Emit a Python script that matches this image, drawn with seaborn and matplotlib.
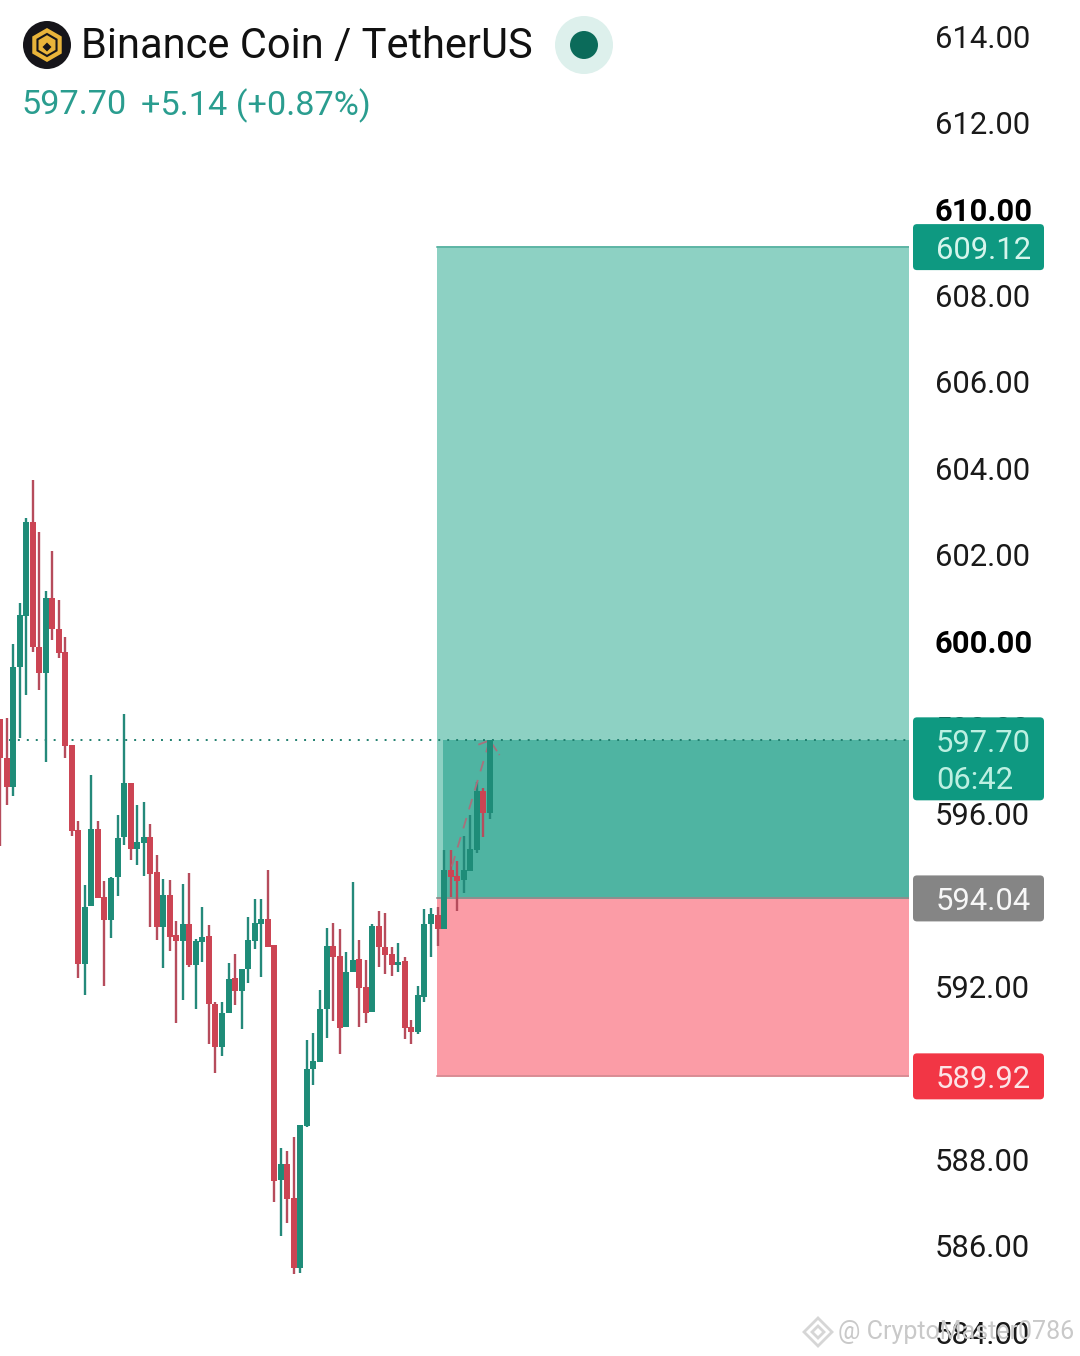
import matplotlib
matplotlib.use("Agg")
import matplotlib.pyplot as plt
from matplotlib.patches import Circle, FancyBboxPatch, RegularPolygon
from matplotlib.transforms import IdentityTransform
import numpy as np
import pandas as pd
import seaborn as sns

direction = list("DDUUUDDUDDDDDUUDDUUUDUUDDUDDUDUUDDUUDUUUUDDUDDUUUUUDDUUDDUDDDUDDUUUDUDDUUUDU")
high = [598.19,598.22,599.93,600.88,602.85,603.73,602.52,601.16,602.08,600.95,600.09,597.59,595.83,594.35,596.90,595.83,
        594.44,594.54,595.97,598.31,596.71,596.20,596.27,595.76,595.05,594.49,594.47,593.52,594.37,594.63,593.10,593.84,
        593.43,591.64,591.64,592.55,592.75,592.41,593.61,594.03,594.03,594.70,592.96,588.26,588.19,588.52,588.79,590.76,
        590.92,591.92,593.36,593.47,593.33,592.80,594.42,593.08,592.61,593.45,593.75,593.70,592.92,593.01,592.68,591.23,
        592.01,593.80,593.82,593.84,595.16,595.16,594.91,595.49,595.97,596.74,596.60,597.70]
body_top = [598.19,597.29,599.40,600.60,602.76,602.76,599.86,601.00,601.00,600.28,599.75,597.59,595.62,593.84,595.65,595.65,
            594.07,594.51,595.44,596.71,596.71,595.35,595.46,595.46,594.65,594.12,594.12,593.19,593.45,593.45,593.05,593.15,
            593.17,591.60,591.39,592.17,592.20,592.41,593.08,593.47,593.56,593.56,592.96,587.89,587.89,587.10,588.79,590.09,
            590.28,591.48,592.94,592.94,592.71,592.34,592.61,592.64,591.99,593.40,593.40,592.92,592.75,592.57,592.59,591.06,
            591.80,593.45,593.68,593.66,594.70,594.70,594.56,594.70,595.18,596.53,596.53,597.70]
body_bottom = [597.29,596.62,596.62,599.40,600.58,599.86,599.26,599.26,600.28,599.72,597.57,595.60,592.52,592.52,593.86,594.05,
               593.54,593.54,594.54,595.46,595.18,595.18,595.32,594.61,593.38,593.38,593.15,593.05,593.05,592.50,592.50,593.03,
               591.60,590.60,590.60,591.39,591.90,591.90,592.41,593.05,593.45,592.92,587.50,587.52,587.08,585.48,585.48,588.77,
               590.09,590.25,591.48,592.68,591.04,591.06,592.34,591.97,591.39,591.41,592.92,592.73,592.50,592.50,591.04,590.95,
               590.95,591.76,593.45,593.33,593.33,594.54,594.44,594.47,594.67,595.16,596.02,596.02]
low = [595.25,596.20,596.41,597.75,598.75,599.75,598.87,597.20,600.02,599.61,597.29,595.49,592.20,591.80,593.86,594.05,
       592.01,593.12,594.10,595.28,594.93,594.81,594.56,593.38,593.08,592.43,592.82,591.16,591.69,592.45,591.48,592.57,
       590.67,590.00,590.39,591.39,591.57,591.02,592.08,592.87,592.22,592.92,587.01,586.22,586.52,585.34,585.37,588.75,
       589.72,590.25,590.81,591.20,590.44,591.06,592.34,591.06,591.16,591.41,592.45,592.29,592.24,592.34,590.79,590.67,
       590.90,591.64,592.68,592.94,593.33,594.07,593.75,594.17,594.67,595.09,595.46,595.88]

last_price = 597.70
target_price = 609.12
entry_price = 594.04
stop_price = 589.92
bold_ticks = [610, 600]
shown_ticks = [614, 612, 610, 608, 606, 604, 602, 600, 598, 596, 592, 588, 586, 584]
arrow_x = [69.2, 75.0]
arrow_y = [594.78, 597.70]
head_x = [73.25, 75.0, 76.5]
head_y = [597.60, 597.70, 597.36]

W, H = 1080, 1356
sns.set_theme(style="white")
plt.rcParams["font.family"] = ["Roboto", "DejaVu Sans"]

fig = plt.figure(figsize=(W / 100, H / 100), dpi=100, facecolor="white")
ax = fig.add_axes([0, 0, 909 / W, 1])
ax.set_facecolor("white")
x_max = 909 / 6.53
ax.set_xlim(0, x_max)
ax.set_ylim(600 - (H - 641) / 43.19, 600 + 641 / 43.19)
for s in ax.spines.values():
    s.set_visible(False)
ax.set_axisbelow(True)

# Risk / reward zones
zone_start, overlap_start = 66.9, 67.9
ax.fill_between([zone_start, x_max], entry_price, target_price, color="#8DD1C3", lw=0, zorder=1)
ax.fill_between([zone_start, x_max], stop_price, entry_price, color="#FB9CA6", lw=0, zorder=1)
ax.fill_between([overlap_start, x_max], entry_price, last_price, color="#4FB4A2", lw=0, zorder=1.1)
ax.plot([zone_start, x_max], [target_price] * 2, color="#5DB5A5", lw=1.4, zorder=1.2)
ax.plot([zone_start, x_max], [entry_price] * 2, color="#8C8F8E", lw=1.4, zorder=1.2)
ax.plot([zone_start, x_max], [stop_price] * 2, color="#D98C94", lw=1.4, zorder=1.2)

# Candles
idx = np.arange(len(direction))
frame = pd.DataFrame(dict(i=idx, dir=direction, high=high, low=low, top=body_top, bottom=body_bottom))
wicks = frame.melt(id_vars=["i", "dir"], value_vars=["high", "low"], value_name="price")
bodies = frame.melt(id_vars=["i", "dir"], value_vars=["top", "bottom"], value_name="price")
sns.lineplot(data=wicks, x="i", y="price", hue="dir", units="i", estimator=None, sort=False,
             palette={"U": "#24897A", "D": "#B64C5C"}, linewidth=1.7, solid_capstyle="butt",
             legend=False, ax=ax, zorder=3)
sns.lineplot(data=bodies, x="i", y="price", hue="dir", units="i", estimator=None, sort=False,
             palette={"U": "#1E8C78", "D": "#CC4453"}, linewidth=4.3, solid_capstyle="butt",
             legend=False, ax=ax, zorder=3.1)

# Last price dotted line and dashed arrow
ax.plot([0, x_max], [last_price] * 2, color="#1F7F6E", lw=1.4, ls=(0, (1, 3.6)), zorder=2.5)
ax.plot(arrow_x, arrow_y, color="#A8707C", lw=1.3, ls=(0, (6, 5)), zorder=3.05)
ax.plot(head_x, head_y, color="#A8707C", lw=1.3, ls=(0, (6, 2)), zorder=3.05)

# Price axis on the right
ax.yaxis.tick_right()
ax.set_yticks(shown_ticks)
ax.set_yticklabels([f"{v:.2f}" for v in shown_ticks])
ax.tick_params(axis="y", length=0, pad=18.7, labelsize=22.3, labelcolor="#1A1A1A")
for lab, v in zip(ax.get_yticklabels(), shown_ticks):
    if v in bold_ticks:
        lab.set_fontweight("bold")
        lab.set_color("#000000")
ax.set_xlabel("")
ax.set_ylabel("")
ax.set_xticks([])


def px(x, y):
    return x, H - y


def tag(price, label, color, text_color, height=46, second=None):
    y_c = H - ax.transData.transform((0, price))[1]
    top = y_c - 23
    x0, y0 = px(913, top + height)
    ax.add_patch(FancyBboxPatch((x0 + 3, y0 + 3), 131 - 6, height - 6, boxstyle="round,pad=3,rounding_size=4",
                                transform=IdentityTransform(), fc=color, ec="none", clip_on=False, zorder=6))
    fig.text(936 / W, 1 - (top + 23) / H, label, color=text_color, fontsize=22.3, va="center_baseline", ha="left")
    if second:
        fig.text(936 / W, 1 - (top + 60) / H, second, color=text_color, fontsize=22.3, va="center_baseline", ha="left")


tag(target_price, "609.12", "#0E9981", "#D5F5EC")
tag(last_price, "597.70", "#0E9981", "#BDF0E2", height=83, second="06:42")
tag(entry_price, "594.04", "#858585", "#F7F7F7")
tag(stop_price, "589.92", "#F23645", "#FCE4E6")

# Header
fig.text(81 / W, 1 - 42 / H, "Binance Coin / TetherUS", color="#111111", fontsize=30.0, va="center_baseline", ha="left")
fig.text(21 / W, 1 - 102 / H, "597.70", color="#2A9D8F", fontsize=24.7, va="center_baseline", ha="left")
fig.text(141 / W, 1 - 102 / H, "+5.14 (+0.87%)", color="#2A9D8F", fontsize=24.7, va="center_baseline", ha="left")


def circle(x, y, r, color, z=7):
    fig.add_artist(Circle(px(x, y), r, transform=IdentityTransform(), fc=color, ec="none", zorder=z))


circle(47, 45, 24, "#16151A")
fig.add_artist(RegularPolygon(px(47, 45), 6, radius=17, transform=IdentityTransform(), fc="#E9B43A", ec="none", zorder=8))
fig.add_artist(RegularPolygon(px(47, 45), 6, radius=11, transform=IdentityTransform(), fc="none", ec="#16151A", lw=1.5, zorder=9))
fig.add_artist(RegularPolygon(px(47, 47), 4, radius=4.5, transform=IdentityTransform(), fc="#16151A", ec="none", zorder=10))
circle(584, 45, 29, "#DDF0EC")
circle(584, 45, 14, "#0B6B5A", 8)

# Watermark
fig.add_artist(RegularPolygon(px(818, 1332), 4, radius=14, transform=IdentityTransform(), fc="none", ec="#D6D6D6", lw=2, zorder=4))
fig.add_artist(RegularPolygon(px(818, 1332), 4, radius=6, transform=IdentityTransform(), fc="none", ec="#D6D6D6", lw=2, zorder=4))
fig.text(838 / W, 1 - 1330 / H, "@ CryptoMaster0786", color="#C9C9C9", fontsize=18, va="center_baseline", ha="left", zorder=4)

fig.savefig("out.png", dpi=100, facecolor="white")
